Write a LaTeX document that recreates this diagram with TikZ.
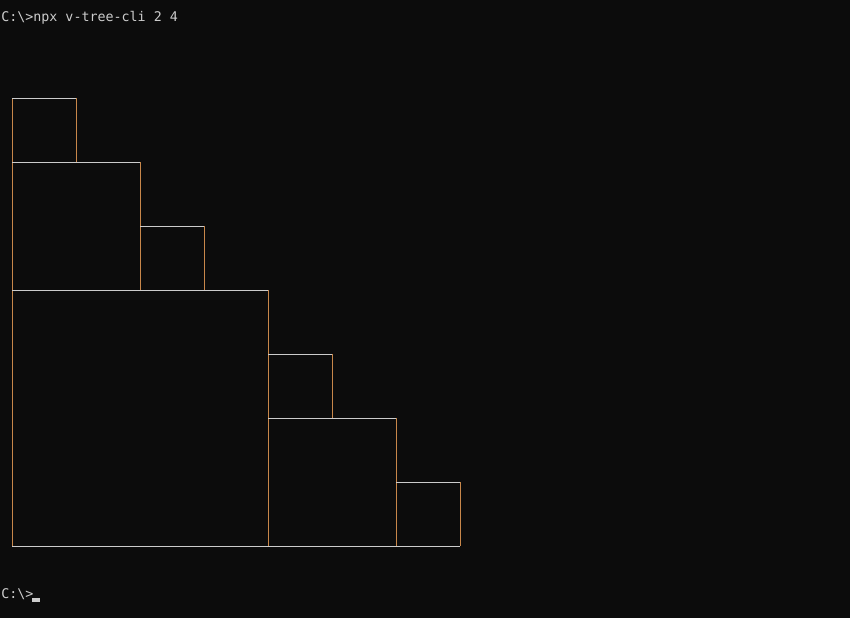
\documentclass[tikz,border=0pt]{standalone}
\usepackage{fontspec}
\setmonofont{DejaVu Sans Mono}
\definecolor{termbg}{HTML}{0C0C0C}
\definecolor{termfg}{HTML}{CCCCCC}
\definecolor{edgev}{HTML}{C8874A}
\begin{document}
\begin{tikzpicture}[x=0.75pt,y=-0.75pt]
    \tikzstyle{every node}+=[inner sep=0pt, text=termfg, font=\ttfamily\fontsize{10}{12}\selectfont]
    \tikzstyle{hline}=[termfg, line width=0.75pt]
    \tikzstyle{vline}=[edgev, line width=0.75pt]
    \fill [termbg] (0,0) rectangle (850,618);
    \node (cmd) at (1,18) [anchor=west] {C:\textbackslash>npx v-tree-cli 2 4};
    \node (prompt) at (1,594) [anchor=west] {C:\textbackslash>};
    \fill [termfg] (32,598) rectangle (40,602);
    \draw [vline] (12,98) -- (12,546);
    \draw [vline] (76,98) -- (76,162);
    \draw [vline] (140,162) -- (140,290);
    \draw [vline] (204,226) -- (204,290);
    \draw [vline] (268,290) -- (268,546);
    \draw [vline] (332,354) -- (332,418);
    \draw [vline] (396,418) -- (396,546);
    \draw [vline] (460,482) -- (460,546);
    \draw [hline] (12,98) -- (76,98);
    \draw [hline] (12,162) -- (140,162);
    \draw [hline] (140,226) -- (204,226);
    \draw [hline] (12,290) -- (268,290);
    \draw [hline] (268,354) -- (332,354);
    \draw [hline] (268,418) -- (396,418);
    \draw [hline] (396,482) -- (460,482);
    \draw [hline] (12,546) -- (460,546);
\end{tikzpicture}
\end{document}
